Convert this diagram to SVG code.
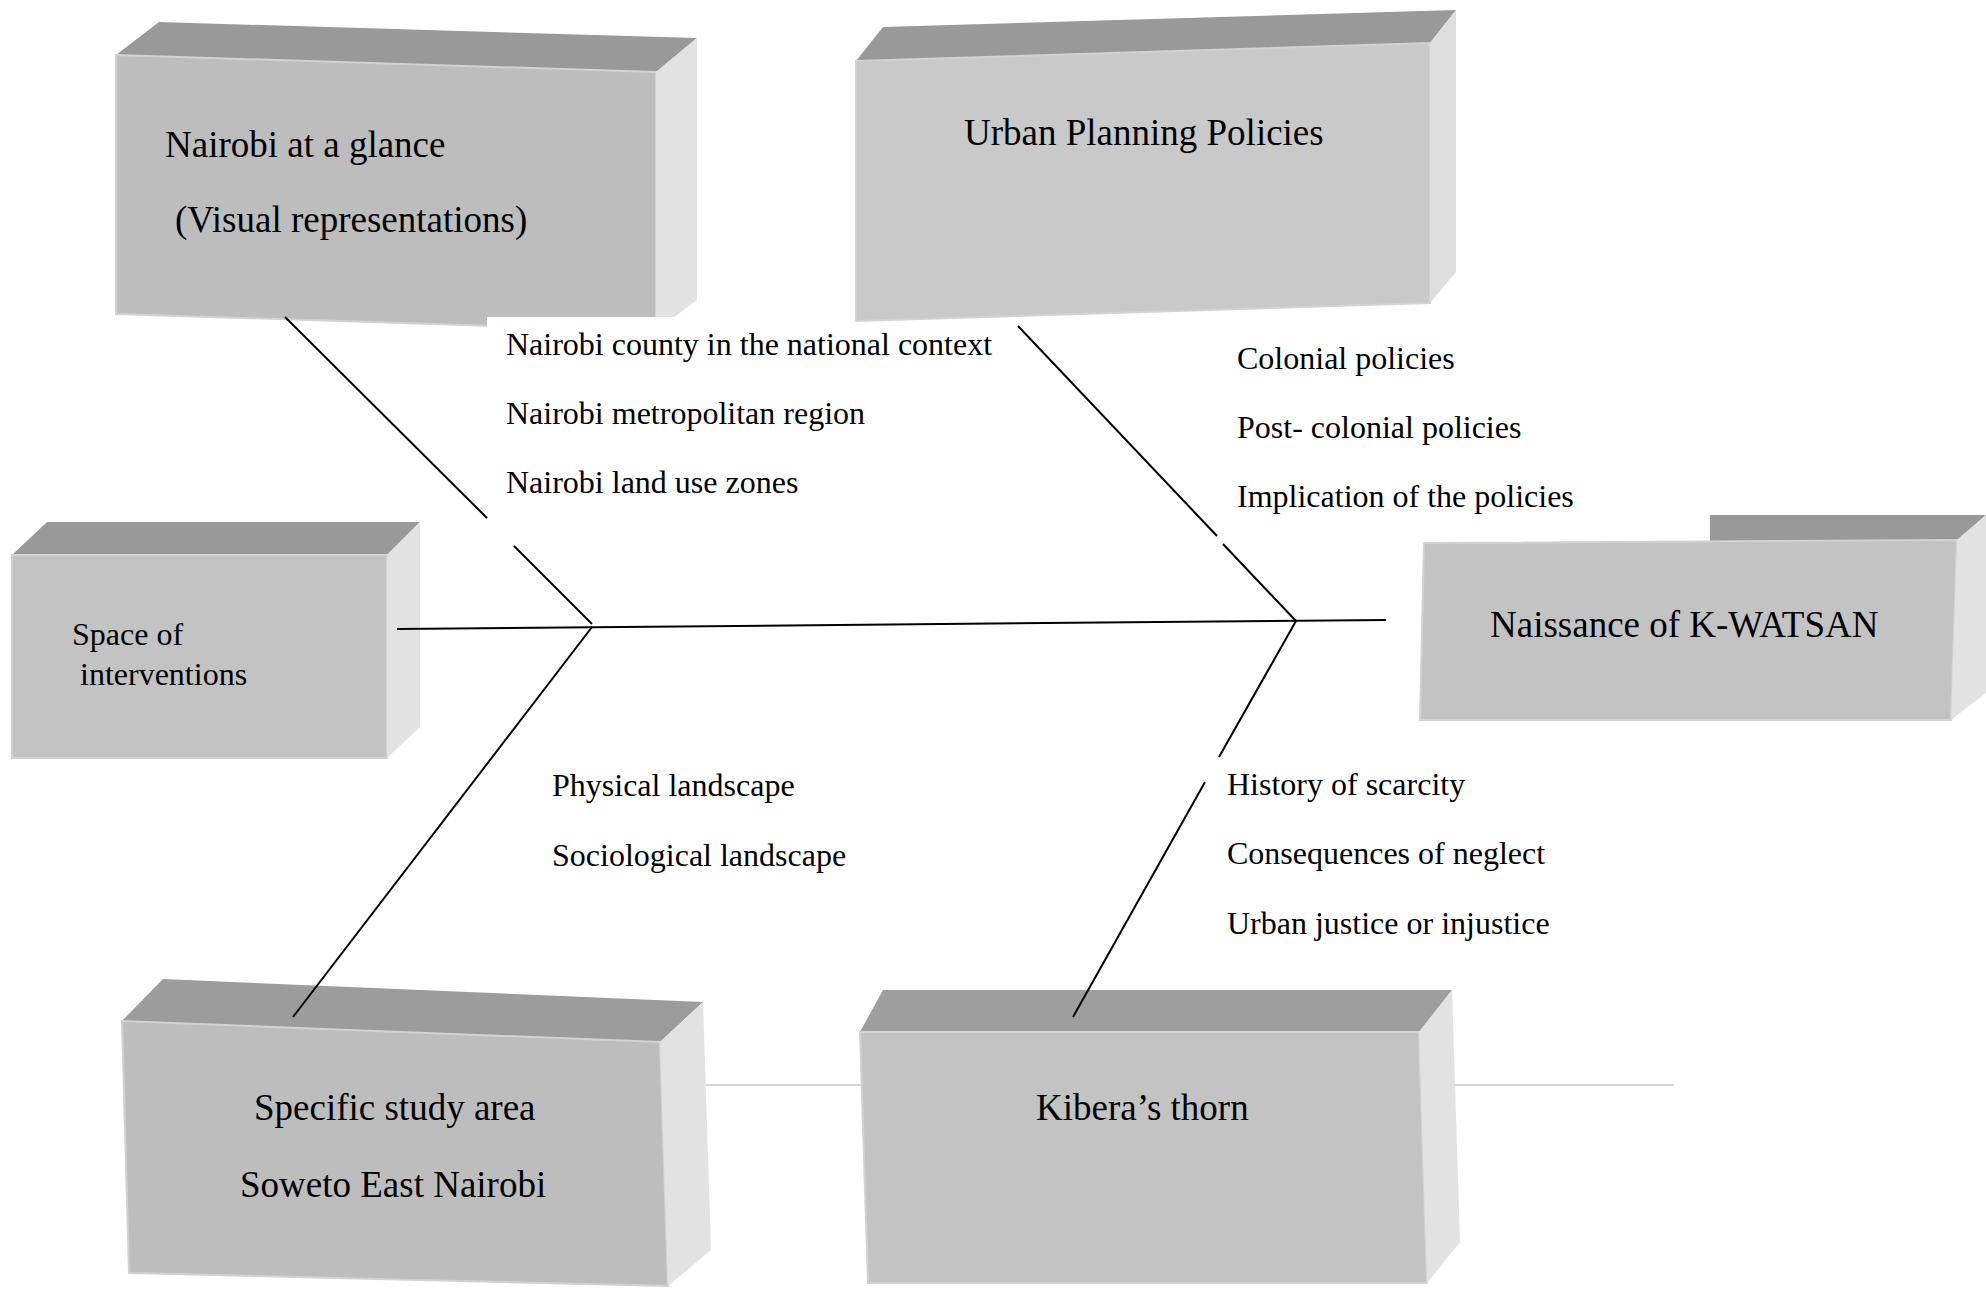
<svg xmlns="http://www.w3.org/2000/svg" width="1986" height="1290" viewBox="0 0 1986 1290">
<style>
.top{fill:#999999}
.front{fill:#c3c3c3;stroke:#d2d2d2;stroke-width:2}
.right{fill:#e2e2e2}
.t{font-family:"Liberation Serif","Times New Roman",serif;fill:#000}
.title{font-size:37px}
.item{font-size:32px}
.ln{stroke:#000;stroke-width:2;fill:none}
.faint{stroke:#d6d6d6;stroke-width:2;fill:none}
</style>
<rect x="0" y="0" width="1986" height="1290" fill="#ffffff"/>
<line class="faint" x1="690" y1="1085" x2="1674" y2="1085"/>

<g id="node-nairobi-glance">
<polygon class="top" points="159,22 697,38 656,72 116,55"/>
<polygon class="front" style="fill:#bdbdbd" points="116,55 656,72 656,331 116,314"/>
<polygon class="right" points="656,72 697,38 697,300 656,331"/>
<rect x="487" y="317" width="362" height="40" fill="#ffffff"/>
<text class="t title" x="165" y="157">Nairobi at a glance</text>
<text class="t title" x="175" y="232">(Visual representations)</text>
</g>

<g id="node-urban-planning">
<polygon class="top" points="883,27 1456,10 1430,43 856,61"/>
<polygon class="front" style="fill:#c9c9c9" points="856,61 1430,43 1430,303 856,321"/>
<polygon class="right" style="fill:#dedede" points="1430,43 1456,10 1456,272 1430,303"/>
<text class="t title" x="964" y="145">Urban Planning Policies</text>
</g>

<g id="node-space">
<polygon class="top" points="47,522 420,522 387,555 12,555"/>
<polygon class="front" points="12,555 387,555 387,758 12,758"/>
<polygon class="right" points="387,555 420,522 420,727 387,758"/>
<text class="t item" x="72" y="645">Space of</text>
<text class="t item" x="80" y="685">interventions</text>
</g>

<g id="node-naissance">
<polygon class="top" points="1710,515 1986,515 1957,540 1710,541"/>
<polygon class="front" points="1424,543 1957,540 1951,720 1420,720"/>
<polygon class="right" points="1957,540 1986,515 1986,693 1951,720"/>
<text class="t title" x="1490" y="637">Naissance of K-WATSAN</text>
</g>

<g id="node-specific">
<polygon class="top" style="fill:#9c9c9c" points="163,979 703,1002 660,1042 122,1021"/>
<polygon class="front" style="fill:#bdbdbd" points="122,1021 660,1042 668,1286 129,1273"/>
<polygon class="right" points="660,1042 703,1002 711,1250 668,1286"/>
<text class="t title" x="254" y="1120">Specific study area</text>
<text class="t title" x="240" y="1197">Soweto East Nairobi</text>
</g>

<g id="node-kibera">
<polygon class="top" style="fill:#9e9e9e" points="883,990 1452,990 1419,1032 860,1032"/>
<polygon class="front" points="860,1032 1419,1032 1427,1283 868,1283"/>
<polygon class="right" points="1419,1032 1452,990 1460,1242 1427,1283"/>
<text class="t title" x="1036" y="1120">Kibera’s thorn</text>
</g>

<g id="connectors">
<line class="ln" x1="397" y1="629" x2="1386" y2="620"/>
<line class="ln" x1="285" y1="317" x2="487" y2="518"/>
<line class="ln" x1="514" y1="546" x2="592" y2="624"/>
<line class="ln" x1="1018" y1="326" x2="1217" y2="536"/>
<line class="ln" x1="1223" y1="544" x2="1296" y2="621"/>
<line class="ln" x1="592" y1="627" x2="293" y2="1017"/>
<line class="ln" x1="1296" y1="621" x2="1219" y2="757"/>
<line class="ln" x1="1205" y1="782" x2="1073" y2="1017"/>
</g>

<g id="labels">
<text class="t item" x="506" y="355">Nairobi county in the national context</text>
<text class="t item" x="506" y="424">Nairobi metropolitan region</text>
<text class="t item" x="506" y="493">Nairobi land use zones</text>
<text class="t item" x="1237" y="369">Colonial policies</text>
<text class="t item" x="1237" y="438">Post- colonial policies</text>
<text class="t item" x="1237" y="507">Implication of the policies</text>
<text class="t item" x="552" y="796">Physical landscape</text>
<text class="t item" x="552" y="866">Sociological landscape</text>
<text class="t item" x="1227" y="795">History of scarcity</text>
<text class="t item" x="1227" y="864">Consequences of neglect</text>
<text class="t item" x="1227" y="934">Urban justice or injustice</text>
</g>
</svg>
